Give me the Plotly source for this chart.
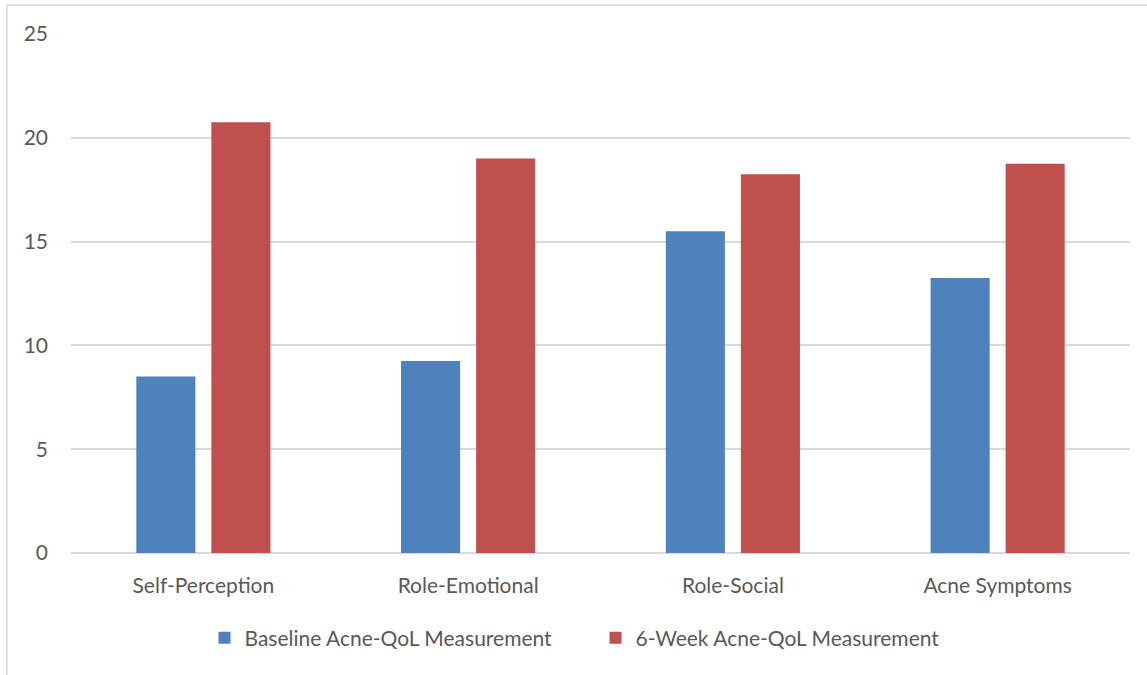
import plotly.graph_objects as go

categories = ["Self-Perception", "Role-Emotional", "Role-Social", "Acne Symptoms"]
baseline = [8.5, 9.25, 15.5, 13.25]
six_week = [20.75, 19.0, 18.25, 18.75]
y_ticks = [0, 5, 10, 15, 20, 25]

FONT = "Lato"
TEXT = "#595959"
SIZE = 21

fig = go.Figure()
fig.add_trace(go.Bar(x=categories, y=baseline, name="Baseline Acne-QoL Measurement",
                     marker=dict(color="#4f81bd", line=dict(width=0))))
fig.add_trace(go.Bar(x=categories, y=six_week, name="6-Week Acne-QoL Measurement",
                     marker=dict(color="#c0504d", line=dict(width=0))))

fig.update_layout(
    width=1147, height=675,
    margin=dict(l=71, r=17, t=34, b=122),
    paper_bgcolor="white", plot_bgcolor="white",
    barmode="group", bargap=0.433, bargroupgap=0.213,
    font=dict(family=FONT, size=SIZE, color=TEXT),
    showlegend=True,
    legend=dict(orientation="h", x=0.5 + 22 / 1147, xanchor="center", xref="container",
                y=1 - 638 / 675, yanchor="middle", yref="container",
                entrywidth=346, entrywidthmode="pixels",
                font=dict(family=FONT, size=SIZE, color=TEXT), traceorder="normal"),
    xaxis=dict(showgrid=False, showline=False, ticks="", automargin=False,
               ticklabelstandoff=18, tickfont=dict(family=FONT, size=SIZE, color=TEXT)),
    yaxis=dict(range=[0, 25], tickvals=y_ticks, showgrid=True, gridcolor="#d9d9d9",
               gridwidth=1.5, zeroline=True, zerolinecolor="#d9d9d9", zerolinewidth=1.5,
               showline=False, ticks="", ticklabelstandoff=22, automargin=False,
               tickfont=dict(family=FONT, size=SIZE, color=TEXT)),
    shapes=[dict(type="rect", xref="paper", yref="paper",
                 x0=-64 / 1059, x1=1.03, y0=-0.3, y1=1 + 29 / 519,
                 line=dict(color="#d9d9d9", width=1.5), fillcolor="rgba(0,0,0,0)",
                 layer="below")],
)

fig.write_html("out.html")
